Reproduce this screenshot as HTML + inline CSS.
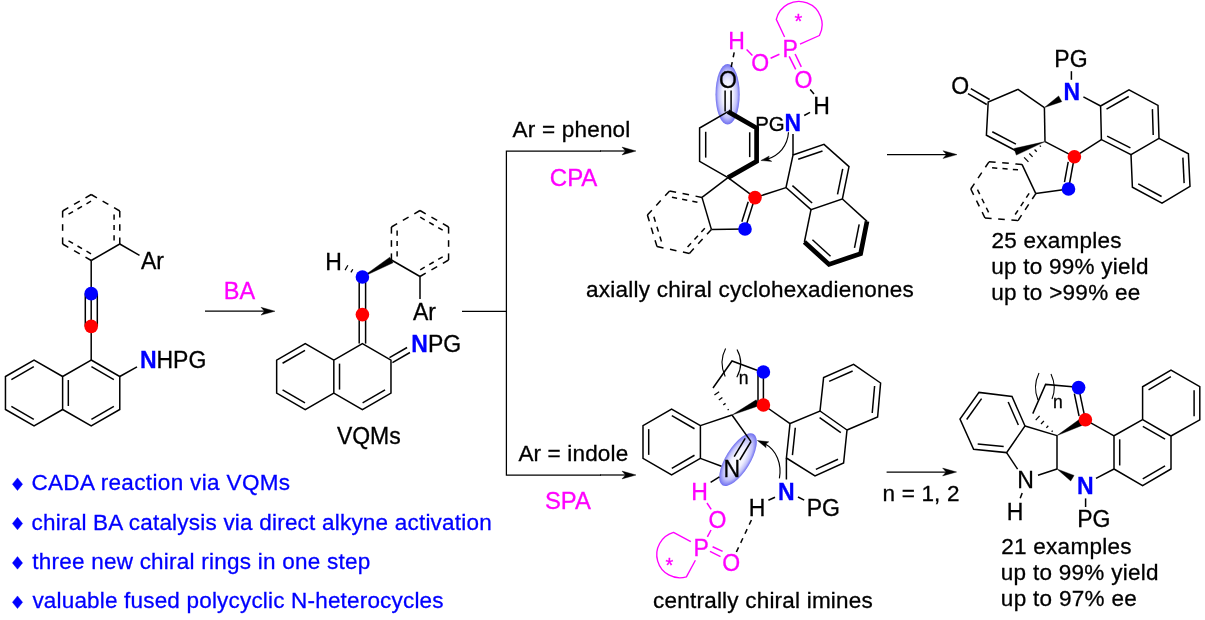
<!DOCTYPE html>
<html><head><meta charset="utf-8"><title>Scheme</title>
<style>
html,body{margin:0;padding:0;background:#fff;}
svg{display:block;font-family:"Liberation Sans",sans-serif;will-change:transform;}
</style></head><body>
<svg width="1205" height="620" viewBox="0 0 1205 620">
<rect width="1205" height="620" fill="#fff"/>
<defs>
<radialGradient id="g1" cx="50%" cy="50%" r="50%">
<stop offset="0" stop-color="#ffffff"/><stop offset="0.45" stop-color="#f0f0ff"/><stop offset="0.78" stop-color="#c0c0fa"/><stop offset="1" stop-color="#6e6ef0"/>
</radialGradient></defs>
<line x1="91.2" y1="194.5" x2="96.92" y2="197.8" stroke="#000" stroke-width="1.5" stroke-linecap="butt"/>
<line x1="102.63" y1="201.1" x2="108.35" y2="204.4" stroke="#000" stroke-width="1.5" stroke-linecap="butt"/>
<line x1="114.06" y1="207.7" x2="119.78" y2="211" stroke="#000" stroke-width="1.5" stroke-linecap="butt"/>
<line x1="119.78" y1="211" x2="119.78" y2="217.6" stroke="#000" stroke-width="1.5" stroke-linecap="butt"/>
<line x1="119.78" y1="224.2" x2="119.78" y2="230.8" stroke="#000" stroke-width="1.5" stroke-linecap="butt"/>
<line x1="119.78" y1="237.4" x2="119.78" y2="244" stroke="#000" stroke-width="1.5" stroke-linecap="butt"/>
<line x1="119.78" y1="244" x2="91.2" y2="260.5" stroke="#000" stroke-width="1.5" stroke-linecap="butt"/>
<line x1="91.2" y1="260.5" x2="85.48" y2="257.2" stroke="#000" stroke-width="1.5" stroke-linecap="butt"/>
<line x1="79.77" y1="253.9" x2="74.05" y2="250.6" stroke="#000" stroke-width="1.5" stroke-linecap="butt"/>
<line x1="68.34" y1="247.3" x2="62.62" y2="244" stroke="#000" stroke-width="1.5" stroke-linecap="butt"/>
<line x1="62.62" y1="244" x2="62.62" y2="237.4" stroke="#000" stroke-width="1.5" stroke-linecap="butt"/>
<line x1="62.62" y1="230.8" x2="62.62" y2="224.2" stroke="#000" stroke-width="1.5" stroke-linecap="butt"/>
<line x1="62.62" y1="217.6" x2="62.62" y2="211" stroke="#000" stroke-width="1.5" stroke-linecap="butt"/>
<line x1="62.62" y1="211" x2="68.34" y2="207.7" stroke="#000" stroke-width="1.5" stroke-linecap="butt"/>
<line x1="74.05" y1="204.4" x2="79.77" y2="201.1" stroke="#000" stroke-width="1.5" stroke-linecap="butt"/>
<line x1="85.48" y1="197.8" x2="91.2" y2="194.5" stroke="#000" stroke-width="1.5" stroke-linecap="butt"/>
<line x1="114.08" y1="214.53" x2="114.08" y2="219.72" stroke="#000" stroke-width="1.5" stroke-linecap="butt"/>
<line x1="114.08" y1="224.91" x2="114.08" y2="230.09" stroke="#000" stroke-width="1.5" stroke-linecap="butt"/>
<line x1="114.08" y1="235.28" x2="114.08" y2="240.47" stroke="#000" stroke-width="1.5" stroke-linecap="butt"/>
<line x1="90.99" y1="253.8" x2="86.5" y2="251.2" stroke="#000" stroke-width="1.5" stroke-linecap="butt"/>
<line x1="82.01" y1="248.61" x2="77.51" y2="246.02" stroke="#000" stroke-width="1.5" stroke-linecap="butt"/>
<line x1="73.02" y1="243.42" x2="68.53" y2="240.83" stroke="#000" stroke-width="1.5" stroke-linecap="butt"/>
<line x1="68.53" y1="214.17" x2="73.02" y2="211.58" stroke="#000" stroke-width="1.5" stroke-linecap="butt"/>
<line x1="77.51" y1="208.98" x2="82.01" y2="206.39" stroke="#000" stroke-width="1.5" stroke-linecap="butt"/>
<line x1="86.5" y1="203.8" x2="90.99" y2="201.2" stroke="#000" stroke-width="1.5" stroke-linecap="butt"/>
<line x1="119.78" y1="244" x2="139.5" y2="255.3" stroke="#000" stroke-width="1.5" stroke-linecap="butt"/>
<text x="141" y="269.1" font-size="23" fill="#000" stroke="#000" stroke-width="0.3">Ar</text>
<line x1="91.2" y1="260.5" x2="91.2" y2="293.6" stroke="#000" stroke-width="1.5" stroke-linecap="butt"/>
<line x1="91.2" y1="293.6" x2="91.2" y2="326.4" stroke="#000" stroke-width="1.5" stroke-linecap="butt"/>
<line x1="85.3" y1="293.6" x2="85.3" y2="326.4" stroke="#000" stroke-width="1.5" stroke-linecap="butt"/>
<line x1="97.3" y1="293.6" x2="97.3" y2="326.4" stroke="#000" stroke-width="1.5" stroke-linecap="butt"/>
<path d="M91.2 360 L119.78 376.5 L119.78 409.5 L91.2 426 L62.62 409.5 L62.62 376.5 Z" fill="none" stroke="#000" stroke-width="1.5" stroke-linejoin="miter" stroke-linecap="butt"/>
<path d="M62.62 376.5 L34.04 360 L5.46 376.5 L5.46 409.5 L34.04 426 L62.62 409.5" fill="none" stroke="#000" stroke-width="1.5" stroke-linejoin="miter" stroke-linecap="butt"/>
<line x1="91.2" y1="326.4" x2="91.2" y2="360" stroke="#000" stroke-width="1.5" stroke-linecap="butt"/>
<line x1="91.41" y1="366.7" x2="113.87" y2="379.67" stroke="#000" stroke-width="1.5" stroke-linecap="butt"/>
<line x1="113.87" y1="406.33" x2="91.41" y2="419.3" stroke="#000" stroke-width="1.5" stroke-linecap="butt"/>
<line x1="68.32" y1="405.97" x2="68.32" y2="380.03" stroke="#000" stroke-width="1.5" stroke-linecap="butt"/>
<line x1="11.37" y1="379.67" x2="33.83" y2="366.7" stroke="#000" stroke-width="1.5" stroke-linecap="butt"/>
<line x1="33.83" y1="419.3" x2="11.37" y2="406.33" stroke="#000" stroke-width="1.5" stroke-linecap="butt"/>
<line x1="119.78" y1="376.5" x2="137" y2="366.8" stroke="#000" stroke-width="1.5" stroke-linecap="butt"/>
<circle cx="91.2" cy="293.6" r="6.8" fill="#0000ff"/>
<circle cx="91.2" cy="326.4" r="6.8" fill="#ff0000"/>
<text x="140.1" y="368.3" font-size="23" fill="#0000ff" stroke="#0000ff" stroke-width="0.3" font-weight="bold">N</text>
<text x="156.48" y="368.3" font-size="23" fill="#000" stroke="#000" stroke-width="0.3">HPG</text>
<line x1="205" y1="311.2" x2="267" y2="311.2" stroke="#000" stroke-width="1.25" stroke-linecap="butt"/>
<path d="M275 311.2 L261 307.3 L264.5 311.2 L261 315.1 Z" fill="#000" stroke="#000" stroke-width="0.4" stroke-linejoin="round"/>
<text x="223.82" y="298.9" font-size="23.5" fill="#ff00ff" stroke="#ff00ff" stroke-width="0.3">BA</text>
<line x1="420" y1="210.5" x2="425.72" y2="213.8" stroke="#000" stroke-width="1.5" stroke-linecap="butt"/>
<line x1="431.43" y1="217.1" x2="437.15" y2="220.4" stroke="#000" stroke-width="1.5" stroke-linecap="butt"/>
<line x1="442.86" y1="223.7" x2="448.58" y2="227" stroke="#000" stroke-width="1.5" stroke-linecap="butt"/>
<line x1="448.58" y1="227" x2="448.58" y2="233.6" stroke="#000" stroke-width="1.5" stroke-linecap="butt"/>
<line x1="448.58" y1="240.2" x2="448.58" y2="246.8" stroke="#000" stroke-width="1.5" stroke-linecap="butt"/>
<line x1="448.58" y1="253.4" x2="448.58" y2="260" stroke="#000" stroke-width="1.5" stroke-linecap="butt"/>
<line x1="448.58" y1="260" x2="442.86" y2="263.3" stroke="#000" stroke-width="1.5" stroke-linecap="butt"/>
<line x1="437.15" y1="266.6" x2="431.43" y2="269.9" stroke="#000" stroke-width="1.5" stroke-linecap="butt"/>
<line x1="425.72" y1="273.2" x2="420" y2="276.5" stroke="#000" stroke-width="1.5" stroke-linecap="butt"/>
<line x1="420" y1="276.5" x2="391.42" y2="260" stroke="#000" stroke-width="1.5" stroke-linecap="butt"/>
<line x1="391.42" y1="260" x2="391.42" y2="253.4" stroke="#000" stroke-width="1.5" stroke-linecap="butt"/>
<line x1="391.42" y1="246.8" x2="391.42" y2="240.2" stroke="#000" stroke-width="1.5" stroke-linecap="butt"/>
<line x1="391.42" y1="233.6" x2="391.42" y2="227" stroke="#000" stroke-width="1.5" stroke-linecap="butt"/>
<line x1="391.42" y1="227" x2="397.14" y2="223.7" stroke="#000" stroke-width="1.5" stroke-linecap="butt"/>
<line x1="402.85" y1="220.4" x2="408.57" y2="217.1" stroke="#000" stroke-width="1.5" stroke-linecap="butt"/>
<line x1="414.28" y1="213.8" x2="420" y2="210.5" stroke="#000" stroke-width="1.5" stroke-linecap="butt"/>
<line x1="420.21" y1="217.2" x2="424.7" y2="219.8" stroke="#000" stroke-width="1.5" stroke-linecap="butt"/>
<line x1="429.19" y1="222.39" x2="433.69" y2="224.98" stroke="#000" stroke-width="1.5" stroke-linecap="butt"/>
<line x1="438.18" y1="227.58" x2="442.67" y2="230.17" stroke="#000" stroke-width="1.5" stroke-linecap="butt"/>
<line x1="442.67" y1="256.83" x2="438.18" y2="259.42" stroke="#000" stroke-width="1.5" stroke-linecap="butt"/>
<line x1="433.69" y1="262.02" x2="429.19" y2="264.61" stroke="#000" stroke-width="1.5" stroke-linecap="butt"/>
<line x1="424.7" y1="267.2" x2="420.21" y2="269.8" stroke="#000" stroke-width="1.5" stroke-linecap="butt"/>
<line x1="397.12" y1="256.47" x2="397.12" y2="251.28" stroke="#000" stroke-width="1.5" stroke-linecap="butt"/>
<line x1="397.12" y1="246.09" x2="397.12" y2="240.91" stroke="#000" stroke-width="1.5" stroke-linecap="butt"/>
<line x1="397.12" y1="235.72" x2="397.12" y2="230.53" stroke="#000" stroke-width="1.5" stroke-linecap="butt"/>
<line x1="420" y1="276.5" x2="420" y2="299" stroke="#000" stroke-width="1.5" stroke-linecap="butt"/>
<text x="413" y="319.5" font-size="23" fill="#000" stroke="#000" stroke-width="0.3">Ar</text>
<path d="M362.4 277 L393.06 262.8 L389.78 257.2 Z" fill="#000" stroke="#000" stroke-width="0.4" stroke-linejoin="round"/>
<path d="M362.4 343.6 L390.98 360.1 L390.98 393.1 L362.4 409.6 L333.82 393.1 L333.82 360.1 Z" fill="none" stroke="#000" stroke-width="1.5" stroke-linejoin="miter" stroke-linecap="butt"/>
<path d="M333.82 360.1 L305.24 343.6 L276.66 360.1 L276.66 393.1 L305.24 409.6 L333.82 393.1" fill="none" stroke="#000" stroke-width="1.5" stroke-linejoin="miter" stroke-linecap="butt"/>
<line x1="359.2" y1="277" x2="359.2" y2="343.6" stroke="#000" stroke-width="1.5" stroke-linecap="butt"/>
<line x1="365.6" y1="277" x2="365.6" y2="343.6" stroke="#000" stroke-width="1.5" stroke-linecap="butt"/>
<line x1="385.07" y1="389.93" x2="362.61" y2="402.9" stroke="#000" stroke-width="1.5" stroke-linecap="butt"/>
<line x1="339.52" y1="389.57" x2="339.52" y2="363.63" stroke="#000" stroke-width="1.5" stroke-linecap="butt"/>
<line x1="282.57" y1="363.27" x2="305.03" y2="350.3" stroke="#000" stroke-width="1.5" stroke-linecap="butt"/>
<line x1="305.03" y1="402.9" x2="282.57" y2="389.93" stroke="#000" stroke-width="1.5" stroke-linecap="butt"/>
<line x1="392.43" y1="362.61" x2="409.95" y2="352.51" stroke="#000" stroke-width="1.5" stroke-linecap="butt"/>
<line x1="389.53" y1="357.59" x2="407.05" y2="347.49" stroke="#000" stroke-width="1.5" stroke-linecap="butt"/>
<circle cx="362.4" cy="277" r="6.8" fill="#0000ff"/>
<circle cx="362.4" cy="314.6" r="6.8" fill="#ff0000"/>
<text x="411.31" y="351.7" font-size="23" fill="#0000ff" stroke="#0000ff" stroke-width="0.3" font-weight="bold">N</text>
<text x="427.88" y="351.7" font-size="23" fill="#000" stroke="#000" stroke-width="0.3">PG</text>
<text x="325.16" y="269.7" font-size="23" fill="#000" stroke="#000" stroke-width="0.3">H</text>
<line x1="352.79" y1="269.24" x2="350.94" y2="272.41" stroke="#000" stroke-width="1.25" stroke-linecap="butt"/>
<line x1="347.89" y1="265.28" x2="345.09" y2="270.07" stroke="#000" stroke-width="1.25" stroke-linecap="butt"/>
<text x="336.88" y="444.1" font-size="23" fill="#000" stroke="#000" stroke-width="0.3">VQMs</text>
<line x1="462" y1="311.4" x2="506.4" y2="311.4" stroke="#000" stroke-width="1.25" stroke-linecap="butt"/>
<path d="M601 151 L506.4 151 L506.4 475 L601 475" fill="none" stroke="#000" stroke-width="1.25" stroke-linejoin="miter" stroke-linecap="butt"/>
<line x1="600" y1="151" x2="628" y2="151" stroke="#000" stroke-width="1.25" stroke-linecap="butt"/>
<path d="M636 151 L622 147.1 L625.5 151 L622 154.9 Z" fill="#000" stroke="#000" stroke-width="0.4" stroke-linejoin="round"/>
<line x1="600" y1="475" x2="628" y2="475" stroke="#000" stroke-width="1.25" stroke-linecap="butt"/>
<path d="M636 475 L622 471.1 L625.5 475 L622 478.9 Z" fill="#000" stroke="#000" stroke-width="0.4" stroke-linejoin="round"/>
<text x="512.6" y="136.7" font-size="22.5" fill="#000" stroke="#000" stroke-width="0.3" letter-spacing="0.201">Ar = phenol</text>
<text x="549.8" y="185.7" font-size="24" fill="#ff00ff" stroke="#ff00ff" stroke-width="0.3">CPA</text>
<text x="518.4" y="460.7" font-size="22.5" fill="#000" stroke="#000" stroke-width="0.3" letter-spacing="0.159">Ar = indole</text>
<text x="544.93" y="509.1" font-size="23.8" fill="#ff00ff" stroke="#ff00ff" stroke-width="0.3">SPA</text>
<text x="31.38" y="490.2" font-size="22.5" fill="#0000ff" stroke="#0000ff" stroke-width="0.3" letter-spacing="0.352">CADA reaction via VQMs</text>
<path d="M17.5 477.9 L22.6 484.2 L17.5 490.5 L12.4 484.2 Z" fill="#0000ff" stroke="#0000ff" stroke-width="0.4" stroke-linejoin="round"/>
<text x="31.6" y="529.55" font-size="22.5" fill="#0000ff" stroke="#0000ff" stroke-width="0.3" letter-spacing="0.211">chiral BA catalysis via direct alkyne activation</text>
<path d="M17.5 517.25 L22.6 523.55 L17.5 529.85 L12.4 523.55 Z" fill="#0000ff" stroke="#0000ff" stroke-width="0.4" stroke-linejoin="round"/>
<text x="32.16" y="568.9" font-size="22.5" fill="#0000ff" stroke="#0000ff" stroke-width="0.3" letter-spacing="0.241">three new chiral rings in one step</text>
<path d="M17.5 556.6 L22.6 562.9 L17.5 569.2 L12.4 562.9 Z" fill="#0000ff" stroke="#0000ff" stroke-width="0.4" stroke-linejoin="round"/>
<text x="32.39" y="608.25" font-size="22.5" fill="#0000ff" stroke="#0000ff" stroke-width="0.3" letter-spacing="0.185">valuable fused polycyclic N-heterocycles</text>
<path d="M17.5 595.95 L22.6 602.25 L17.5 608.55 L12.4 602.25 Z" fill="#0000ff" stroke="#0000ff" stroke-width="0.4" stroke-linejoin="round"/>
<ellipse cx="727.6" cy="94.3" rx="12.1" ry="30.3" fill="url(#g1)"/>
<path d="M728 177.6 L699.6 161.4 L699.6 128 L728 111.6" fill="none" stroke="#000" stroke-width="1.5" stroke-linejoin="miter" stroke-linecap="butt"/>
<path d="M728 111.6 L756.6 128 L756.6 161.4 L728 177.6" fill="none" stroke="#000" stroke-width="4.7" stroke-linejoin="miter" stroke-linecap="butt"/>
<line x1="705.7" y1="157.62" x2="705.7" y2="131.78" stroke="#000" stroke-width="1.5" stroke-linecap="butt"/>
<line x1="749.7" y1="132.28" x2="749.7" y2="157.12" stroke="#000" stroke-width="1.5" stroke-linecap="butt"/>
<line x1="725.1" y1="111.6" x2="725.1" y2="90.5" stroke="#000" stroke-width="1.5" stroke-linecap="butt"/>
<line x1="731.1" y1="111.6" x2="731.1" y2="90.5" stroke="#000" stroke-width="1.5" stroke-linecap="butt"/>
<text x="718.97" y="87.9" font-size="23" fill="#000" stroke="#000" stroke-width="0.3">O</text>
<line x1="728" y1="177.6" x2="755" y2="197.6" stroke="#000" stroke-width="1.5" stroke-linecap="butt"/>
<line x1="728" y1="177.6" x2="702" y2="197.4" stroke="#000" stroke-width="1.5" stroke-linecap="butt"/>
<line x1="702" y1="197.4" x2="711.4" y2="229.4" stroke="#000" stroke-width="1.5" stroke-linecap="butt"/>
<line x1="711.4" y1="229.4" x2="745" y2="229" stroke="#000" stroke-width="1.5" stroke-linecap="butt"/>
<line x1="702" y1="197.4" x2="695.52" y2="196.12" stroke="#000" stroke-width="1.5" stroke-linecap="butt"/>
<line x1="689.04" y1="194.84" x2="682.56" y2="193.56" stroke="#000" stroke-width="1.5" stroke-linecap="butt"/>
<line x1="676.08" y1="192.28" x2="669.6" y2="191" stroke="#000" stroke-width="1.5" stroke-linecap="butt"/>
<line x1="669.6" y1="191" x2="665.16" y2="195.8" stroke="#000" stroke-width="1.5" stroke-linecap="butt"/>
<line x1="660.72" y1="200.6" x2="656.28" y2="205.4" stroke="#000" stroke-width="1.5" stroke-linecap="butt"/>
<line x1="651.84" y1="210.2" x2="647.4" y2="215" stroke="#000" stroke-width="1.5" stroke-linecap="butt"/>
<line x1="647.4" y1="215" x2="649.32" y2="221.32" stroke="#000" stroke-width="1.5" stroke-linecap="butt"/>
<line x1="651.24" y1="227.64" x2="653.16" y2="233.96" stroke="#000" stroke-width="1.5" stroke-linecap="butt"/>
<line x1="655.08" y1="240.28" x2="657" y2="246.6" stroke="#000" stroke-width="1.5" stroke-linecap="butt"/>
<line x1="657" y1="246.6" x2="663.48" y2="247.96" stroke="#000" stroke-width="1.5" stroke-linecap="butt"/>
<line x1="669.96" y1="249.32" x2="676.44" y2="250.68" stroke="#000" stroke-width="1.5" stroke-linecap="butt"/>
<line x1="682.92" y1="252.04" x2="689.4" y2="253.4" stroke="#000" stroke-width="1.5" stroke-linecap="butt"/>
<line x1="689.4" y1="253.4" x2="693.8" y2="248.6" stroke="#000" stroke-width="1.5" stroke-linecap="butt"/>
<line x1="698.2" y1="243.8" x2="702.6" y2="239" stroke="#000" stroke-width="1.5" stroke-linecap="butt"/>
<line x1="707" y1="234.2" x2="711.4" y2="229.4" stroke="#000" stroke-width="1.5" stroke-linecap="butt"/>
<line x1="697.43" y1="202.31" x2="692.34" y2="201.3" stroke="#000" stroke-width="1.5" stroke-linecap="butt"/>
<line x1="687.24" y1="200.29" x2="682.15" y2="199.29" stroke="#000" stroke-width="1.5" stroke-linecap="butt"/>
<line x1="677.06" y1="198.28" x2="671.96" y2="197.28" stroke="#000" stroke-width="1.5" stroke-linecap="butt"/>
<line x1="653.88" y1="216.72" x2="655.39" y2="221.69" stroke="#000" stroke-width="1.5" stroke-linecap="butt"/>
<line x1="656.9" y1="226.66" x2="658.41" y2="231.63" stroke="#000" stroke-width="1.5" stroke-linecap="butt"/>
<line x1="659.92" y1="236.59" x2="661.43" y2="241.56" stroke="#000" stroke-width="1.5" stroke-linecap="butt"/>
<line x1="687.59" y1="246.94" x2="691.03" y2="243.19" stroke="#000" stroke-width="1.5" stroke-linecap="butt"/>
<line x1="694.48" y1="239.43" x2="697.92" y2="235.67" stroke="#000" stroke-width="1.5" stroke-linecap="butt"/>
<line x1="701.37" y1="231.91" x2="704.81" y2="228.15" stroke="#000" stroke-width="1.5" stroke-linecap="butt"/>
<line x1="755" y1="197.6" x2="745" y2="229" stroke="#000" stroke-width="1.5" stroke-linecap="butt"/>
<line x1="748.22" y1="201.74" x2="741.87" y2="221.7" stroke="#000" stroke-width="1.5" stroke-linecap="butt"/>
<path d="M793 155 L824 144.4 L849 166.6 L842.4 199 L811 209.6 L786 187.6 Z" fill="none" stroke="#000" stroke-width="1.5" stroke-linejoin="miter" stroke-linecap="butt"/>
<path d="M842.4 199 L867 221.4" fill="none" stroke="#000" stroke-width="1.5" stroke-linejoin="miter" stroke-linecap="butt"/>
<path d="M804.4 242 L811 209.6" fill="none" stroke="#000" stroke-width="1.5" stroke-linejoin="miter" stroke-linecap="butt"/>
<path d="M867 221.4 L860.6 253.6 L829 264.4 L804.4 242" fill="none" stroke="#000" stroke-width="4.7" stroke-linejoin="miter" stroke-linecap="butt"/>
<line x1="798.19" y1="159.25" x2="822.5" y2="150.94" stroke="#000" stroke-width="1.5" stroke-linecap="butt"/>
<line x1="842.71" y1="168.93" x2="837.52" y2="194.4" stroke="#000" stroke-width="1.5" stroke-linecap="butt"/>
<line x1="812.11" y1="202.99" x2="792.42" y2="185.66" stroke="#000" stroke-width="1.5" stroke-linecap="butt"/>
<line x1="859.18" y1="224.33" x2="854.49" y2="247.9" stroke="#000" stroke-width="1.5" stroke-linecap="butt"/>
<line x1="830.53" y1="256.19" x2="812.44" y2="239.71" stroke="#000" stroke-width="1.5" stroke-linecap="butt"/>
<line x1="755" y1="197.6" x2="786" y2="187.6" stroke="#000" stroke-width="1.5" stroke-linecap="butt"/>
<line x1="793" y1="134" x2="793" y2="155" stroke="#000" stroke-width="1.5" stroke-linecap="butt"/>
<circle cx="755" cy="197.6" r="6.8" fill="#ff0000"/>
<circle cx="745" cy="229" r="6.8" fill="#0000ff"/>
<text x="755.17" y="130.9" font-size="20.4" fill="#000" stroke="#000" stroke-width="0.3">PG</text>
<text x="784.5" y="130.9" font-size="23" fill="#0000ff" stroke="#0000ff" stroke-width="0.3" font-weight="bold">N</text>
<text x="813.16" y="114.3" font-size="23" fill="#000" stroke="#000" stroke-width="0.3">H</text>
<line x1="804.2" y1="115.5" x2="810" y2="112.4" stroke="#000" stroke-width="1.5" stroke-linecap="butt"/>
<path d="M788.5 132.3 C787.6 146 779 155.6 767 159.2" fill="none" stroke="#000" stroke-width="1.15"/>
<path d="M760.9 160.5 L769.2 156 L768.2 159.1 L771.8 161.4 Z" fill="#000" stroke="#000" stroke-width="0.4" stroke-linejoin="round"/>
<text x="728.16" y="48.7" font-size="23" fill="#ff00ff" stroke="#ff00ff" stroke-width="0.3">H</text>
<text x="751.17" y="70.7" font-size="23" fill="#ff00ff" stroke="#ff00ff" stroke-width="0.3">O</text>
<text x="782.56" y="57.1" font-size="23" fill="#ff00ff" stroke="#ff00ff" stroke-width="0.3">P</text>
<text x="794.57" y="87.5" font-size="23" fill="#ff00ff" stroke="#ff00ff" stroke-width="0.3">O</text>
<line x1="746.6" y1="49.4" x2="752.4" y2="55.4" stroke="#ff00ff" stroke-width="1.5" stroke-linecap="butt"/>
<line x1="770.6" y1="58.2" x2="779.4" y2="54.2" stroke="#ff00ff" stroke-width="1.5" stroke-linecap="butt"/>
<line x1="789.2" y1="56.4" x2="795.7" y2="69.4" stroke="#ff00ff" stroke-width="1.5" stroke-linecap="butt"/>
<line x1="795.1" y1="54" x2="801.3" y2="66.8" stroke="#ff00ff" stroke-width="1.5" stroke-linecap="butt"/>
<path d="M784.6 37 L776.3 19.4 A23.2 23.2 0 1 1 819.4 35.5 L800 44.2" fill="none" stroke="#ff00ff" stroke-width="1.35" stroke-linejoin="round"/>
<text x="794.6" y="28.1" font-size="20" fill="#ff00ff" stroke="#ff00ff" stroke-width="0.3">*</text>
<line x1="734.2" y1="52.4" x2="733.2" y2="57.27" stroke="#000" stroke-width="1.5" stroke-linecap="butt"/>
<line x1="732.2" y1="62.13" x2="731.2" y2="67" stroke="#000" stroke-width="1.5" stroke-linecap="butt"/>
<line x1="810.2" y1="89.4" x2="814" y2="94" stroke="#000" stroke-width="1.5" stroke-linecap="butt"/>
<text x="586.1" y="296.5" font-size="22.5" fill="#000" stroke="#000" stroke-width="0.3" letter-spacing="0.242">axially chiral cyclohexadienones</text>
<line x1="887" y1="154.6" x2="949" y2="154.6" stroke="#000" stroke-width="1.25" stroke-linecap="butt"/>
<path d="M957 154.6 L943 150.7 L946.5 154.6 L943 158.5 Z" fill="#000" stroke="#000" stroke-width="0.4" stroke-linejoin="round"/>
<path d="M1044.4 107.6 L1018 89.4 L988.2 102 L986.4 135.2 L1016.4 151" fill="none" stroke="#000" stroke-width="1.5" stroke-linejoin="miter" stroke-linecap="butt"/>
<line x1="1044.4" y1="107.6" x2="1045" y2="141.6" stroke="#000" stroke-width="1.5" stroke-linecap="butt"/>
<line x1="992.28" y1="131.74" x2="1015.92" y2="144.19" stroke="#000" stroke-width="1.5" stroke-linecap="butt"/>
<path d="M1045 141.6 L1014.07 148.49 L1016.33 155.11 Z" fill="#000" stroke="#000" stroke-width="0.4" stroke-linejoin="round"/>
<line x1="989.64" y1="99.49" x2="970.84" y2="88.69" stroke="#000" stroke-width="1.5" stroke-linecap="butt"/>
<line x1="986.76" y1="104.51" x2="967.96" y2="93.71" stroke="#000" stroke-width="1.5" stroke-linecap="butt"/>
<text x="951.37" y="93.7" font-size="23" fill="#000" stroke="#000" stroke-width="0.3">O</text>
<path d="M1044.4 107.6 L1061.78 101.64 L1058.62 95.96 Z" fill="#000" stroke="#000" stroke-width="0.4" stroke-linejoin="round"/>
<text x="1063.51" y="100.3" font-size="23" fill="#0000ff" stroke="#0000ff" stroke-width="0.3" font-weight="bold">N</text>
<text x="1054.36" y="66.7" font-size="23" fill="#000" stroke="#000" stroke-width="0.3">PG</text>
<line x1="1071.4" y1="71.2" x2="1071.4" y2="79.8" stroke="#000" stroke-width="1.5" stroke-linecap="butt"/>
<line x1="1045" y1="141.6" x2="1074.4" y2="156.8" stroke="#000" stroke-width="1.5" stroke-linecap="butt"/>
<path d="M1100.6 106 L1129 89.8 L1158 105.4 L1159 138.4 L1131 154.6 L1101.4 139.6 Z" fill="none" stroke="#000" stroke-width="1.5" stroke-linejoin="miter" stroke-linecap="butt"/>
<path d="M1159 138.4 L1188.4 153.8 L1190 186.4 L1162 203.2 L1132.4 187.2 L1131 154.6" fill="none" stroke="#000" stroke-width="1.5" stroke-linejoin="miter" stroke-linecap="butt"/>
<line x1="1106.49" y1="109.2" x2="1128.75" y2="96.5" stroke="#000" stroke-width="1.5" stroke-linecap="butt"/>
<line x1="1152.41" y1="109.11" x2="1153.2" y2="135.04" stroke="#000" stroke-width="1.5" stroke-linecap="butt"/>
<line x1="1130.42" y1="147.92" x2="1107.13" y2="136.11" stroke="#000" stroke-width="1.5" stroke-linecap="butt"/>
<line x1="1182.88" y1="157.61" x2="1184.13" y2="183.15" stroke="#000" stroke-width="1.5" stroke-linecap="butt"/>
<line x1="1161.6" y1="196.51" x2="1138.22" y2="183.87" stroke="#000" stroke-width="1.5" stroke-linecap="butt"/>
<line x1="1083.4" y1="96.8" x2="1100.6" y2="106" stroke="#000" stroke-width="1.5" stroke-linecap="butt"/>
<line x1="1074.4" y1="156.8" x2="1101.4" y2="139.6" stroke="#000" stroke-width="1.5" stroke-linecap="butt"/>
<line x1="1039.78" y1="145.56" x2="1040.86" y2="146.68" stroke="#000" stroke-width="1.25" stroke-linecap="butt"/>
<line x1="1034.56" y1="149.52" x2="1036.72" y2="151.76" stroke="#000" stroke-width="1.25" stroke-linecap="butt"/>
<line x1="1029.33" y1="153.48" x2="1032.59" y2="156.84" stroke="#000" stroke-width="1.25" stroke-linecap="butt"/>
<line x1="1024.11" y1="157.44" x2="1028.45" y2="161.92" stroke="#000" stroke-width="1.25" stroke-linecap="butt"/>
<line x1="1022" y1="164.4" x2="1035.8" y2="193.6" stroke="#000" stroke-width="1.5" stroke-linecap="butt"/>
<line x1="1035.8" y1="193.6" x2="1068.5" y2="189" stroke="#000" stroke-width="1.5" stroke-linecap="butt"/>
<line x1="1022" y1="164.4" x2="1015.4" y2="163.88" stroke="#000" stroke-width="1.5" stroke-linecap="butt"/>
<line x1="1008.8" y1="163.36" x2="1002.2" y2="162.84" stroke="#000" stroke-width="1.5" stroke-linecap="butt"/>
<line x1="995.6" y1="162.32" x2="989" y2="161.8" stroke="#000" stroke-width="1.5" stroke-linecap="butt"/>
<line x1="989" y1="161.8" x2="985.36" y2="167.24" stroke="#000" stroke-width="1.5" stroke-linecap="butt"/>
<line x1="981.72" y1="172.68" x2="978.08" y2="178.12" stroke="#000" stroke-width="1.5" stroke-linecap="butt"/>
<line x1="974.44" y1="183.56" x2="970.8" y2="189" stroke="#000" stroke-width="1.5" stroke-linecap="butt"/>
<line x1="970.8" y1="189" x2="973.64" y2="194.8" stroke="#000" stroke-width="1.5" stroke-linecap="butt"/>
<line x1="976.48" y1="200.6" x2="979.32" y2="206.4" stroke="#000" stroke-width="1.5" stroke-linecap="butt"/>
<line x1="982.16" y1="212.2" x2="985" y2="218" stroke="#000" stroke-width="1.5" stroke-linecap="butt"/>
<line x1="985" y1="218" x2="991.6" y2="218.52" stroke="#000" stroke-width="1.5" stroke-linecap="butt"/>
<line x1="998.2" y1="219.04" x2="1004.8" y2="219.56" stroke="#000" stroke-width="1.5" stroke-linecap="butt"/>
<line x1="1011.4" y1="220.08" x2="1018" y2="220.6" stroke="#000" stroke-width="1.5" stroke-linecap="butt"/>
<line x1="1018" y1="220.6" x2="1021.56" y2="215.2" stroke="#000" stroke-width="1.5" stroke-linecap="butt"/>
<line x1="1025.12" y1="209.8" x2="1028.68" y2="204.4" stroke="#000" stroke-width="1.5" stroke-linecap="butt"/>
<line x1="1032.24" y1="199" x2="1035.8" y2="193.6" stroke="#000" stroke-width="1.5" stroke-linecap="butt"/>
<line x1="1018.03" y1="169.8" x2="1012.84" y2="169.4" stroke="#000" stroke-width="1.5" stroke-linecap="butt"/>
<line x1="1007.65" y1="168.99" x2="1002.46" y2="168.58" stroke="#000" stroke-width="1.5" stroke-linecap="butt"/>
<line x1="997.27" y1="168.17" x2="992.08" y2="167.76" stroke="#000" stroke-width="1.5" stroke-linecap="butt"/>
<line x1="977.47" y1="189.67" x2="979.69" y2="194.2" stroke="#000" stroke-width="1.5" stroke-linecap="butt"/>
<line x1="981.91" y1="198.73" x2="984.13" y2="203.26" stroke="#000" stroke-width="1.5" stroke-linecap="butt"/>
<line x1="986.35" y1="207.79" x2="988.57" y2="212.32" stroke="#000" stroke-width="1.5" stroke-linecap="butt"/>
<line x1="1015.19" y1="214.51" x2="1017.97" y2="210.29" stroke="#000" stroke-width="1.5" stroke-linecap="butt"/>
<line x1="1020.75" y1="206.07" x2="1023.53" y2="201.85" stroke="#000" stroke-width="1.5" stroke-linecap="butt"/>
<line x1="1026.31" y1="197.63" x2="1029.1" y2="193.41" stroke="#000" stroke-width="1.5" stroke-linecap="butt"/>
<line x1="1074.4" y1="156.8" x2="1068.5" y2="189" stroke="#000" stroke-width="1.5" stroke-linecap="butt"/>
<line x1="1068.2" y1="161.76" x2="1064.47" y2="182.16" stroke="#000" stroke-width="1.5" stroke-linecap="butt"/>
<circle cx="1074.4" cy="156.8" r="6.8" fill="#ff0000"/>
<circle cx="1068.5" cy="189" r="6.8" fill="#0000ff"/>
<text x="991.58" y="248.1" font-size="22.5" fill="#000" stroke="#000" stroke-width="0.3" letter-spacing="0.244">25 examples</text>
<text x="991.24" y="274.2" font-size="22.5" fill="#000" stroke="#000" stroke-width="0.3" letter-spacing="0.246">up to 99% yield</text>
<text x="991.24" y="300.4" font-size="22.5" fill="#000" stroke="#000" stroke-width="0.3" letter-spacing="0.274">up to &gt;99% ee</text>
<ellipse cx="738" cy="459.6" rx="12.2" ry="30" fill="url(#g1)" transform="rotate(31.5 738 459.6)"/>
<path d="M700.4 425.6 L671.6 409 L643 425.6 L643 458.4 L671.6 475 L700.4 458.4 Z" fill="none" stroke="#000" stroke-width="1.5" stroke-linejoin="miter" stroke-linecap="butt"/>
<line x1="694.49" y1="428.77" x2="671.82" y2="415.7" stroke="#000" stroke-width="1.5" stroke-linecap="butt"/>
<line x1="648.7" y1="429.13" x2="648.7" y2="454.87" stroke="#000" stroke-width="1.5" stroke-linecap="butt"/>
<line x1="671.82" y1="468.3" x2="694.49" y2="455.23" stroke="#000" stroke-width="1.5" stroke-linecap="butt"/>
<line x1="700.4" y1="425.6" x2="732" y2="415" stroke="#000" stroke-width="1.5" stroke-linecap="butt"/>
<line x1="732" y1="415" x2="751" y2="441.6" stroke="#000" stroke-width="1.5" stroke-linecap="butt"/>
<line x1="700.4" y1="458.4" x2="721.4" y2="466.2" stroke="#000" stroke-width="1.5" stroke-linecap="butt"/>
<line x1="751" y1="441.5" x2="739.8" y2="460" stroke="#000" stroke-width="1.5" stroke-linecap="butt"/>
<line x1="745.2" y1="438.4" x2="734.2" y2="456.6" stroke="#000" stroke-width="1.5" stroke-linecap="butt"/>
<text x="723.56" y="477.3" font-size="23" fill="#000" stroke="#000" stroke-width="0.3">N</text>
<path d="M732 415 L759 405.73 L756.2 399.87 Z" fill="#000" stroke="#000" stroke-width="0.4" stroke-linejoin="round"/>
<line x1="728.79" y1="409.19" x2="727.61" y2="410.01" stroke="#000" stroke-width="1.25" stroke-linecap="butt"/>
<line x1="725.58" y1="403.37" x2="723.22" y2="405.03" stroke="#000" stroke-width="1.25" stroke-linecap="butt"/>
<line x1="722.37" y1="397.56" x2="718.83" y2="400.04" stroke="#000" stroke-width="1.25" stroke-linecap="butt"/>
<line x1="719.16" y1="391.74" x2="714.44" y2="395.06" stroke="#000" stroke-width="1.25" stroke-linecap="butt"/>
<path d="M713 388 L732 361 L757 370.2" fill="none" stroke="#000" stroke-width="1.5" stroke-linejoin="miter" stroke-linecap="butt"/>
<line x1="763.4" y1="372" x2="763.4" y2="405" stroke="#000" stroke-width="1.5" stroke-linecap="butt"/>
<line x1="758" y1="372" x2="758" y2="405" stroke="#000" stroke-width="1.5" stroke-linecap="butt"/>
<path d="M725.6 348.5 Q718.5 362 725.2 376.5" fill="none" stroke="#000" stroke-width="1.1"/>
<path d="M737 349.5 Q744.6 363 736.8 377.3" fill="none" stroke="#000" stroke-width="1.1"/>
<text x="738.66" y="383.9" font-size="17.5" fill="#000" stroke="#000" stroke-width="0.3">n</text>
<path d="M790 423.6 L786.4 458 L815 476 L843.6 463 L847 430 L820 411 Z" fill="none" stroke="#000" stroke-width="1.5" stroke-linejoin="miter" stroke-linecap="butt"/>
<path d="M820 411 L823.6 377.6 L853.6 364.4 L880.6 383 L877.6 417 L847 430" fill="none" stroke="#000" stroke-width="1.5" stroke-linejoin="miter" stroke-linecap="butt"/>
<line x1="795.3" y1="427.71" x2="792.44" y2="455.08" stroke="#000" stroke-width="1.5" stroke-linecap="butt"/>
<line x1="815.86" y1="469.35" x2="838.02" y2="459.27" stroke="#000" stroke-width="1.5" stroke-linecap="butt"/>
<line x1="840.83" y1="432.63" x2="819.61" y2="417.7" stroke="#000" stroke-width="1.5" stroke-linecap="butt"/>
<line x1="829.13" y1="381.39" x2="852.66" y2="371.04" stroke="#000" stroke-width="1.5" stroke-linecap="butt"/>
<line x1="874.61" y1="386.02" x2="872.23" y2="412.98" stroke="#000" stroke-width="1.5" stroke-linecap="butt"/>
<line x1="763.4" y1="405" x2="790" y2="423.6" stroke="#000" stroke-width="1.5" stroke-linecap="butt"/>
<line x1="786.4" y1="458" x2="786.4" y2="479.5" stroke="#000" stroke-width="1.5" stroke-linecap="butt"/>
<circle cx="763.4" cy="405" r="6.8" fill="#ff0000"/>
<circle cx="763.4" cy="372" r="6.8" fill="#0000ff"/>
<text x="778.11" y="499.7" font-size="23" fill="#0000ff" stroke="#0000ff" stroke-width="0.3" font-weight="bold">N</text>
<text x="748.76" y="515.7" font-size="23" fill="#000" stroke="#000" stroke-width="0.3">H</text>
<text x="806.76" y="515.7" font-size="23" fill="#000" stroke="#000" stroke-width="0.3">PG</text>
<line x1="768.4" y1="500.2" x2="775" y2="497.2" stroke="#000" stroke-width="1.5" stroke-linecap="butt"/>
<line x1="798" y1="497" x2="804.2" y2="500.2" stroke="#000" stroke-width="1.5" stroke-linecap="butt"/>
<path d="M779.4 478.4 C782 464 776.5 450 764.8 443.8" fill="none" stroke="#000" stroke-width="1.15"/>
<path d="M757.4 440.5 L768.8 441.8 L765.7 444.3 L766.1 447.7 Z" fill="#000" stroke="#000" stroke-width="0.4" stroke-linejoin="round"/>
<text x="691.16" y="499.5" font-size="23" fill="#ff00ff" stroke="#ff00ff" stroke-width="0.3">H</text>
<line x1="710.6" y1="482.4" x2="719.4" y2="476.8" stroke="#000" stroke-width="1.5" stroke-linecap="butt"/>
<line x1="707" y1="503" x2="711.2" y2="509.4" stroke="#ff00ff" stroke-width="1.5" stroke-linecap="butt"/>
<text x="708.57" y="527.7" font-size="23" fill="#ff00ff" stroke="#ff00ff" stroke-width="0.3">O</text>
<line x1="711" y1="530" x2="707.4" y2="536.8" stroke="#ff00ff" stroke-width="1.5" stroke-linecap="butt"/>
<text x="693.56" y="556.3" font-size="23" fill="#ff00ff" stroke="#ff00ff" stroke-width="0.3">P</text>
<line x1="712.6" y1="546.7" x2="722.6" y2="551.4" stroke="#ff00ff" stroke-width="1.5" stroke-linecap="butt"/>
<line x1="710" y1="551.4" x2="720.5" y2="556.7" stroke="#ff00ff" stroke-width="1.5" stroke-linecap="butt"/>
<text x="722.17" y="570.9" font-size="23" fill="#ff00ff" stroke="#ff00ff" stroke-width="0.3">O</text>
<path d="M690.8 541.6 L673.5 532.4 A23.1 23.1 0 1 0 686.4 576.9 L695.4 560.2" fill="none" stroke="#ff00ff" stroke-width="1.35" stroke-linejoin="round"/>
<text x="665.4" y="572.3" font-size="20" fill="#ff00ff" stroke="#ff00ff" stroke-width="0.3">*</text>
<line x1="751.4" y1="520" x2="749.26" y2="524.57" stroke="#000" stroke-width="1.5" stroke-linecap="butt"/>
<line x1="747.11" y1="529.14" x2="744.97" y2="533.71" stroke="#000" stroke-width="1.5" stroke-linecap="butt"/>
<line x1="742.83" y1="538.29" x2="740.69" y2="542.86" stroke="#000" stroke-width="1.5" stroke-linecap="butt"/>
<line x1="738.54" y1="547.43" x2="736.4" y2="552" stroke="#000" stroke-width="1.5" stroke-linecap="butt"/>
<text x="653.1" y="608.1" font-size="22.5" fill="#000" stroke="#000" stroke-width="0.3" letter-spacing="0.209">centrally chiral imines</text>
<line x1="886.6" y1="472" x2="948.6" y2="472" stroke="#000" stroke-width="1.25" stroke-linecap="butt"/>
<path d="M956.6 472 L942.6 468.1 L946.1 472 L942.6 475.9 Z" fill="#000" stroke="#000" stroke-width="0.4" stroke-linejoin="round"/>
<text x="882.54" y="500.7" font-size="22.5" fill="#000" stroke="#000" stroke-width="0.3" letter-spacing="0.182">n = 1, 2</text>
<path d="M1025 426 L1012 396.4 L979 392.4 L960 419 L973.6 449.2 L1006.6 452.6 Z" fill="none" stroke="#000" stroke-width="1.5" stroke-linejoin="miter" stroke-linecap="butt"/>
<line x1="1018.36" y1="425.06" x2="1008.2" y2="401.93" stroke="#000" stroke-width="1.5" stroke-linecap="butt"/>
<line x1="981.58" y1="398.59" x2="966.69" y2="419.44" stroke="#000" stroke-width="1.5" stroke-linecap="butt"/>
<line x1="977.7" y1="443.89" x2="1003.67" y2="446.57" stroke="#000" stroke-width="1.5" stroke-linecap="butt"/>
<line x1="1025" y1="426" x2="1057" y2="435.6" stroke="#000" stroke-width="1.5" stroke-linecap="butt"/>
<line x1="1057" y1="435.6" x2="1057" y2="469" stroke="#000" stroke-width="1.5" stroke-linecap="butt"/>
<line x1="1006.6" y1="452.6" x2="1017.6" y2="469.2" stroke="#000" stroke-width="1.5" stroke-linecap="butt"/>
<line x1="1038" y1="475.2" x2="1057" y2="469" stroke="#000" stroke-width="1.5" stroke-linecap="butt"/>
<text x="1017.36" y="488.3" font-size="23" fill="#000" stroke="#000" stroke-width="0.3">N</text>
<text x="1006.76" y="519.9" font-size="23" fill="#000" stroke="#000" stroke-width="0.3">H</text>
<line x1="1022.2" y1="493" x2="1020.2" y2="498.2" stroke="#000" stroke-width="1.5" stroke-linecap="butt"/>
<path d="M1057 435.6 L1081.98 425.44 L1078.82 419.76 Z" fill="#000" stroke="#000" stroke-width="0.4" stroke-linejoin="round"/>
<path d="M1057 469 L1070.73 480.99 L1074.07 475.41 Z" fill="#000" stroke="#000" stroke-width="0.4" stroke-linejoin="round"/>
<line x1="1052.64" y1="430.67" x2="1051.68" y2="431.73" stroke="#000" stroke-width="1.25" stroke-linecap="butt"/>
<line x1="1048.29" y1="425.73" x2="1046.35" y2="427.87" stroke="#000" stroke-width="1.25" stroke-linecap="butt"/>
<line x1="1043.93" y1="420.8" x2="1041.03" y2="424" stroke="#000" stroke-width="1.25" stroke-linecap="butt"/>
<line x1="1039.58" y1="415.87" x2="1035.7" y2="420.13" stroke="#000" stroke-width="1.25" stroke-linecap="butt"/>
<path d="M1032.8 413.6 L1045.6 384.4 L1072.4 386.8" fill="none" stroke="#000" stroke-width="1.5" stroke-linejoin="miter" stroke-linecap="butt"/>
<line x1="1078.6" y1="387.6" x2="1085.4" y2="419.8" stroke="#000" stroke-width="1.5" stroke-linecap="butt"/>
<line x1="1074.35" y1="393.61" x2="1079.08" y2="416.02" stroke="#000" stroke-width="1.5" stroke-linecap="butt"/>
<path d="M1039 373 Q1032.5 386.5 1038 400" fill="none" stroke="#000" stroke-width="1.1"/>
<path d="M1051 374 Q1057 387 1052 399" fill="none" stroke="#000" stroke-width="1.1"/>
<text x="1053.06" y="407.5" font-size="17.5" fill="#000" stroke="#000" stroke-width="0.3">n</text>
<path d="M1114 435.8 L1114 469 L1142.6 485.6 L1171 469 L1171 436 L1142.6 419.6 Z" fill="none" stroke="#000" stroke-width="1.5" stroke-linejoin="miter" stroke-linecap="butt"/>
<path d="M1142.6 419.6 L1142.6 386.8 L1171 370 L1199.8 386.6 L1199.8 419.8 L1171 436" fill="none" stroke="#000" stroke-width="1.5" stroke-linejoin="miter" stroke-linecap="butt"/>
<line x1="1119.7" y1="439.33" x2="1119.7" y2="465.47" stroke="#000" stroke-width="1.5" stroke-linecap="butt"/>
<line x1="1142.77" y1="478.9" x2="1165.07" y2="465.86" stroke="#000" stroke-width="1.5" stroke-linecap="butt"/>
<line x1="1165.09" y1="439.17" x2="1142.81" y2="426.3" stroke="#000" stroke-width="1.5" stroke-linecap="butt"/>
<line x1="1148.54" y1="389.91" x2="1170.86" y2="376.71" stroke="#000" stroke-width="1.5" stroke-linecap="butt"/>
<line x1="1194.1" y1="390.13" x2="1194.1" y2="416.27" stroke="#000" stroke-width="1.5" stroke-linecap="butt"/>
<line x1="1085.4" y1="419.8" x2="1114" y2="435.8" stroke="#000" stroke-width="1.5" stroke-linecap="butt"/>
<line x1="1096" y1="478.4" x2="1114" y2="469" stroke="#000" stroke-width="1.5" stroke-linecap="butt"/>
<circle cx="1085.4" cy="419.8" r="6.8" fill="#ff0000"/>
<circle cx="1078.6" cy="387.6" r="6.8" fill="#0000ff"/>
<text x="1077.11" y="494.3" font-size="23" fill="#0000ff" stroke="#0000ff" stroke-width="0.3" font-weight="bold">N</text>
<line x1="1085.6" y1="498.4" x2="1085.6" y2="507" stroke="#000" stroke-width="1.5" stroke-linecap="butt"/>
<text x="1077.16" y="527.3" font-size="23" fill="#000" stroke="#000" stroke-width="0.3">PG</text>
<text x="1001.17" y="554" font-size="22.5" fill="#000" stroke="#000" stroke-width="0.3" letter-spacing="0.284">21 examples</text>
<text x="1000.84" y="580.1" font-size="22.5" fill="#000" stroke="#000" stroke-width="0.3" letter-spacing="0.274">up to 99% yield</text>
<text x="1000.84" y="606" font-size="22.5" fill="#000" stroke="#000" stroke-width="0.3" letter-spacing="0.305">up to 97% ee</text>
</svg>
</body></html>
